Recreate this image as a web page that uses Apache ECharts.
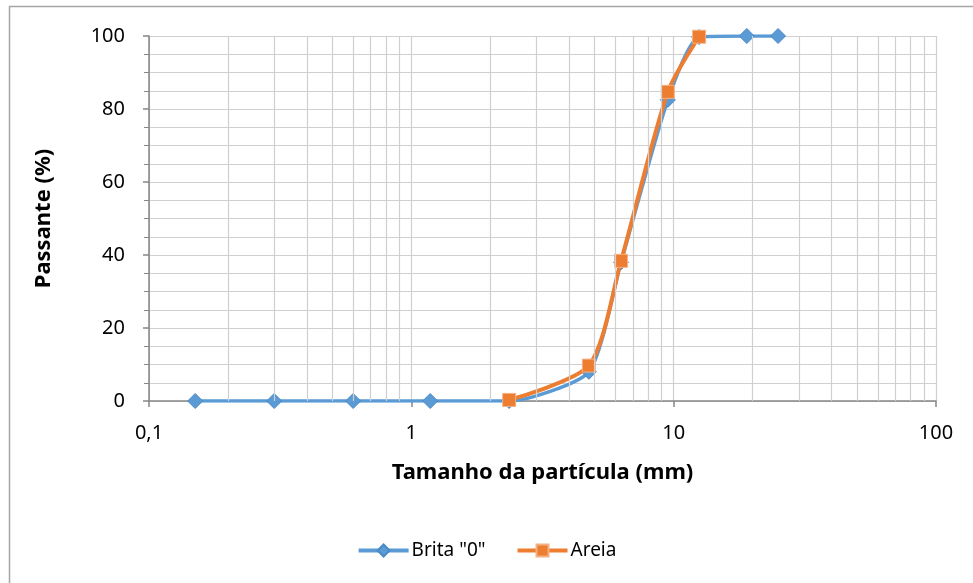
<!DOCTYPE html>
<html>
<head>
<meta charset="utf-8">
<script src="https://cdn.jsdelivr.net/npm/echarts@6/dist/echarts.min.js"></script>
<style>html,body{margin:0;padding:0;background:#fff;}#c{width:973px;height:583px;}</style>
</head>
<body>
<div id="c"></div>
<script>
// Data
var britaSizes = [0.15, 0.3, 0.6, 1.18, 2.36, 4.75, 6.3, 9.5, 12.5, 19, 25];
var britaPass  = [0, 0, 0, 0, 0, 8, 38, 82.5, 99.7, 100, 100];
var areiaSizes = [2.36, 4.75, 6.3, 9.5, 12.5];
var areiaPass  = [0.3, 9.7, 38.4, 84.7, 99.8];
var seriesNames = ['Brita "0"', 'Areia'];
var xMinorGrid = [0.2,0.3,0.4,0.5,0.6,0.7,0.8,0.9,2,3,4,5,6,7,8,9,20,30,40,50,60,70,80,90];
var xTitle = 'Tamanho da partícula (mm)';
var yTitle = 'Passante (%)';

function zip(a, b){ return a.map(function(v,i){ return [v, b[i]]; }); }

var FONT = '"Noto Sans", sans-serif';
var GRID = '#d0d0d0';
var AXIS = '#868686';

var chart = echarts.init(document.getElementById('c'), null, {renderer:'canvas'});
chart.setOption({
  animation: false,
  backgroundColor: '#fff',
  graphic: [{
    type: 'rect', silent: true, z: -10,
    shape: {x: 9.5, y: 6.5, width: 2000, height: 2000},
    style: {fill: null, stroke: '#a6a6a6', lineWidth: 1.5}
  }],
  grid: {left: 149, right: 37, top: 36, bottom: 182},
  legend: {
    top: 536, left: 'center',
    itemWidth: 50, itemHeight: 15, itemGap: 30,
    lineStyle: {width: 4},
    textStyle: {fontFamily: FONT, fontSize: 19, color: '#000', padding: [0,0,0,-2]},
    data: seriesNames
  },
  xAxis: {
    type: 'log', logBase: 10, min: 0.1, max: 100,
    name: xTitle, nameLocation: 'middle', nameGap: 61,
    nameTextStyle: {fontFamily: FONT, fontSize: 22, fontWeight: 'bold', color: '#000'},
    axisLine: {show: true, lineStyle: {color: AXIS, width: 1.5}},
    axisTick: {show: true, length: 6, lineStyle: {color: AXIS, width: 1.5}},
    axisLabel: {fontFamily: FONT, fontSize: 20, color: '#000', margin: 22,
      formatter: function(v){ return String(v).replace('.', ','); }},
    splitLine: {show: true, lineStyle: {color: GRID, width: 1.2}}
  },
  yAxis: {
    type: 'value', min: 0, max: 100, interval: 20,
    name: yTitle, nameLocation: 'middle', nameGap: 94, nameRotate: 90,
    nameTextStyle: {fontFamily: FONT, fontSize: 22, fontWeight: 'bold', color: '#000'},
    axisLine: {show: true, lineStyle: {color: AXIS, width: 1.5}},
    axisTick: {show: true, length: 6, lineStyle: {color: AXIS, width: 1.5}},
    minorTick: {show: true, splitNumber: 4, length: 5, lineStyle: {color: AXIS, width: 1}},
    minorSplitLine: {show: true, lineStyle: {color: GRID, width: 1.2}},
    axisLabel: {fontFamily: FONT, fontSize: 20, color: '#000', margin: 24},
    splitLine: {show: true, lineStyle: {color: GRID, width: 1.2}}
  },
  series: [
    {
      name: 'grid', type: 'line', data: [], silent: true, z: 0,
      markLine: {
        silent: true, symbol: 'none', animation: false,
        label: {show: false},
        lineStyle: {color: GRID, width: 1.2, type: 'solid'},
        emphasis: {disabled: true},
        data: xMinorGrid.map(function(v){ return [{coord:[v,0]},{coord:[v,100]}]; })
      }
    },
    {
      name: seriesNames[0], type: 'line', smooth: 0.2,
      data: zip(britaSizes, britaPass),
      symbol: 'diamond', symbolSize: 15,
      lineStyle: {color: '#5b9bd5', width: 3.5},
      itemStyle: {color: '#5b9bd5', borderColor: '#4a8ac6', borderWidth: 1},
      z: 3
    },
    {
      name: seriesNames[1], type: 'line', smooth: 0.25,
      data: zip(areiaSizes, areiaPass),
      symbol: 'rect', symbolSize: 13,
      lineStyle: {color: '#ed7d31', width: 4},
      itemStyle: {color: '#ed7d31', borderColor: '#f4b183', borderWidth: 1},
      z: 4
    }
  ]
});
</script>
</body>
</html>
